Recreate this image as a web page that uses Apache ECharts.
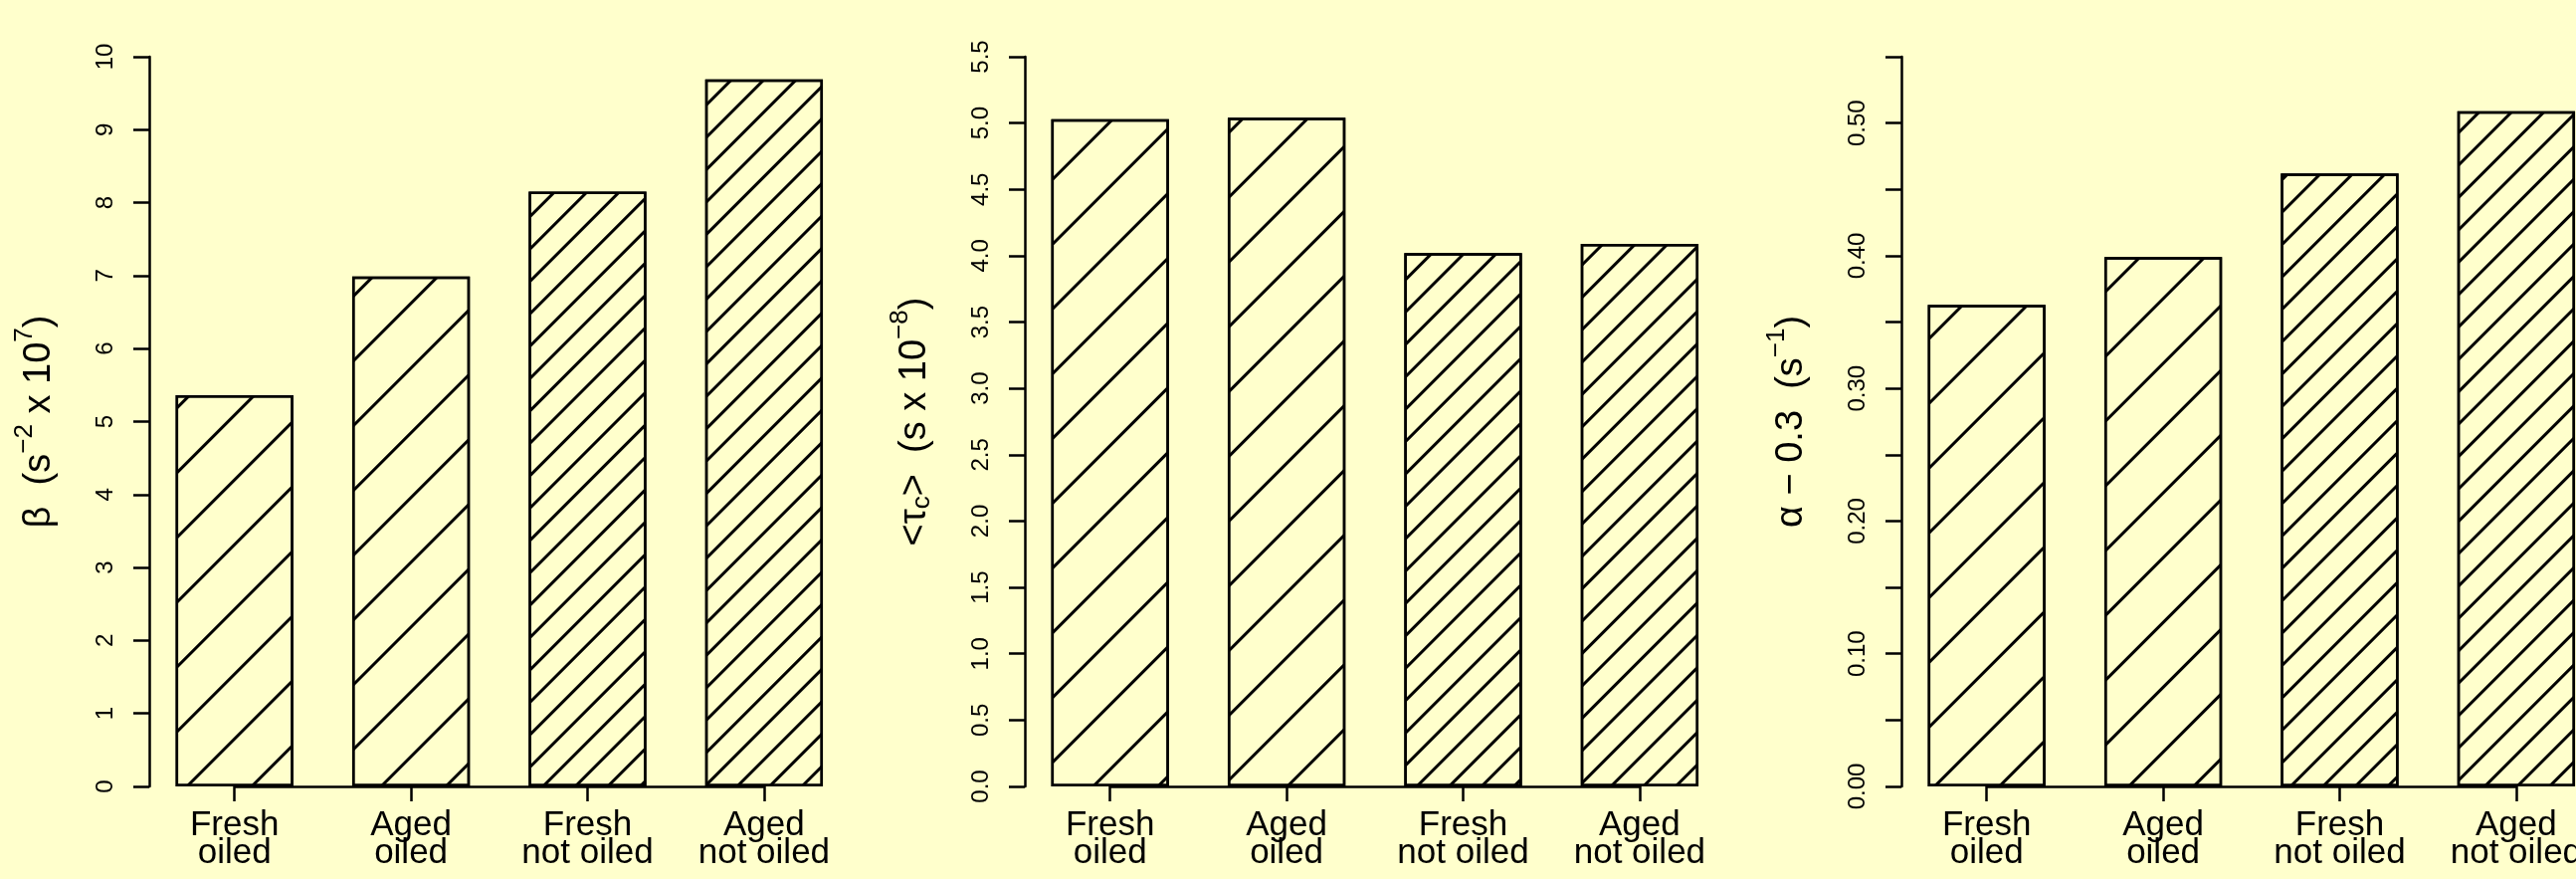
<!DOCTYPE html>
<html>
<head>
<meta charset="utf-8">
<script src="https://cdn.jsdelivr.net/npm/echarts@6/dist/echarts.min.js"></script>
<style>
  html, body { margin: 0; padding: 0; background: #FFFFCC; }
  #main { width: 2589px; height: 883px; }
</style>
</head>
<body>
<div id="main"></div>
<script>
// categories shared by the three panels
var categories = ['Fresh\noiled', 'Aged\noiled', 'Fresh\nnot oiled', 'Aged\nnot oiled'];

// bar heights
var betaValues = [5.36, 6.99, 8.15, 9.69];
var tauValues = [5.03, 5.04, 4.02, 4.09];
var alphaValues = [0.363, 0.399, 0.462, 0.509];

// y axis ranges
var betaMax = 10, betaStep = 1;
var tauMax = 5.5, tauStep = 0.5;
var alphaMax = 0.55, alphaStep = 0.05;

var FONT = "'Liberation Sans', Arial, sans-serif";
var LW = 2.5;

// hatching: first two bars sparse, last two dense
function hatch(gap) {
  return {
    symbol: 'rect',
    symbolSize: 1,
    color: '#000',
    backgroundColor: null,
    dashArrayX: [1, 0],
    dashArrayY: [2.5, gap],
    rotation: -Math.PI / 4
  };
}
var hatchStyles = [hatch(42.5), hatch(42.5), hatch(20), hatch(20)];

var myChart = echarts.init(document.getElementById('main'));

var option = {
  animation: false,
  backgroundColor: '#FFFFCC',
  grid: [],
  xAxis: [],
  yAxis: [],
  series: []
};

function addPanel(idx, left, values, max, step, name, labelFmt) {
  // third panel runs past the right edge of the picture, so no bounds squeezing
  option.grid.push({ left: left, top: 57, width: 709.6, height: 733, containLabel: false, outerBoundsMode: 'none' });
  option.xAxis.push({
    type: 'category',
    gridIndex: idx,
    data: categories,
    axisLine: { show: false },
    axisTick: { show: true, alignWithLabel: true, length: 15, lineStyle: { color: '#000', width: LW } },
    axisLabel: { color: '#000', fontSize: 35, lineHeight: 28, margin: 25, fontFamily: FONT, interval: 0 },
    splitLine: { show: false }
  });
  option.yAxis.push({
    type: 'value',
    gridIndex: idx,
    min: 0,
    max: max,
    interval: step,
    offset: -3,
    axisLine: { show: true, lineStyle: { color: '#000', width: LW } },
    axisTick: { show: true, length: 16, lineStyle: { color: '#000', width: LW } },
    axisLabel: { color: '#000', fontSize: 24, rotate: 90, margin: 32, fontFamily: FONT, formatter: labelFmt, showMinLabel: true, showMaxLabel: true },
    splitLine: { show: false },
    name: name,
    nameLocation: 'middle',
    nameGap: 82,
    nameTextStyle: {
      color: '#000', fontSize: 38, fontFamily: FONT,
      rich: {
        sup: { color: '#000', fontSize: 26, fontFamily: FONT, padding: [0, 0, 30, 0] },
        sub: { color: '#000', fontSize: 26, fontFamily: FONT, padding: [14, 0, 0, 0] }
      }
    }
  });
  option.series.push({
    type: 'bar',
    xAxisIndex: idx,
    yAxisIndex: idx,
    barCategoryGap: '33.33%',
    data: values.map(function (v, i) {
      return {
        value: v,
        itemStyle: { color: '#FFFFCC', borderColor: '#000', borderWidth: LW, decal: hatchStyles[i] }
      };
    }),
    markLine: {
      silent: true,
      symbol: ['none', 'none'],
      label: { show: false },
      lineStyle: { color: '#000', width: LW, type: 'solid' },
      data: [[{ coord: [categories[0], 0] }, { coord: [categories[3], 0] }]]
    }
  });
}

addPanel(0, 147, betaValues, betaMax, betaStep,
  'β  (s{sup|−2} x 10{sup|7})',
  function (v) { return String(Math.round(v)); });
addPanel(1, 1027, tauValues, tauMax, tauStep,
  '<τ{sub|c}>  (s x 10{sup|−8})',
  function (v) { return v.toFixed(1); });
addPanel(2, 1908, alphaValues, alphaMax, alphaStep,
  'α − 0.3  (s{sup|−1})',
  function (v) { return Math.round(v / 0.05) % 2 === 0 ? v.toFixed(2) : ''; });

myChart.setOption(option);
</script>
</body>
</html>
